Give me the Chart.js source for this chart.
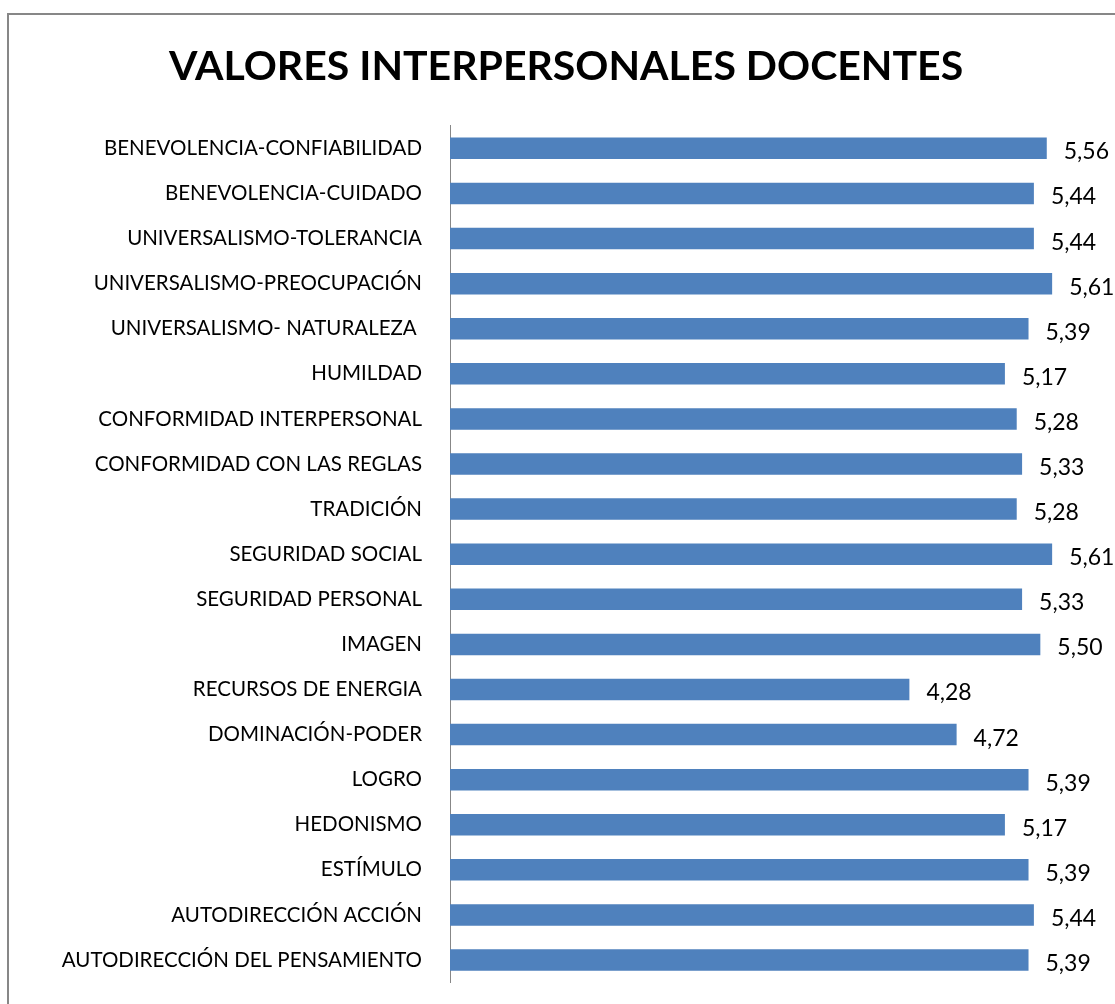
<!DOCTYPE html>
<html>
<head>
<meta charset="utf-8">
<script src="https://cdn.jsdelivr.net/npm/chart.js@4/dist/chart.umd.min.js"></script>
<style>
  html, body { margin: 0; padding: 0; background: #fff; overflow: hidden; }
  canvas { display: block; }
</style>
</head>
<body>
<canvas id="myChart" width="1115" height="1004"></canvas>
<script>
const categories = [
  "BENEVOLENCIA-CONFIABILIDAD",
  "BENEVOLENCIA-CUIDADO",
  "UNIVERSALISMO-TOLERANCIA",
  "UNIVERSALISMO-PREOCUPACIÓN",
  "UNIVERSALISMO- NATURALEZA ",
  "HUMILDAD",
  "CONFORMIDAD INTERPERSONAL",
  "CONFORMIDAD CON LAS REGLAS",
  "TRADICIÓN",
  "SEGURIDAD SOCIAL",
  "SEGURIDAD PERSONAL",
  "IMAGEN",
  "RECURSOS DE ENERGIA",
  "DOMINACIÓN-PODER",
  "LOGRO",
  "HEDONISMO",
  "ESTÍMULO",
  "AUTODIRECCIÓN ACCIÓN",
  "AUTODIRECCIÓN DEL PENSAMIENTO"
];
const values = [5.56, 5.44, 5.44, 5.61, 5.39, 5.17, 5.28, 5.33, 5.28, 5.61,
                5.33, 5.50, 4.28, 4.72, 5.39, 5.17, 5.39, 5.44, 5.39];
const title = "VALORES INTERPERSONALES DOCENTES";

const fontFamily = "Lato, 'Open Sans', sans-serif";

// outer frame like the office chart border
const framePlugin = {
  id: "frame",
  beforeDraw(chart) {
    const c = chart.ctx;
    c.save();
    c.fillStyle = "#fff";
    c.fillRect(0, 0, chart.width, chart.height);
    c.strokeStyle = "#878787";
    c.lineWidth = 2;
    c.strokeRect(8, 14, 3000, 3000);
    c.restore();
  }
};

// value labels at the end of each bar
const valueLabels = {
  id: "valueLabels",
  afterDatasetsDraw(chart) {
    const c = chart.ctx;
    const meta = chart.getDatasetMeta(0);
    c.save();
    c.font = "23px " + fontFamily;
    c.fillStyle = "#000";
    c.textAlign = "left";
    c.textBaseline = "alphabetic";
    meta.data.forEach((bar, i) => {
      const txt = values[i].toFixed(2).replace(".", ",");
      c.fillText(txt, bar.x + 17, bar.y + 11);
    });
    c.restore();
  }
};

const ctx = document.getElementById("myChart").getContext("2d");
const myChart = new Chart(ctx, {
  type: "bar",
  data: {
    labels: categories,
    datasets: [
      {
        data: values,
        backgroundColor: "#4F81BD",
        borderWidth: 0,
        categoryPercentage: 1,
        barPercentage: 0.477,
      },
    ],
  },
  options: {
    indexAxis: "y",
    responsive: false,
    animation: false,
    layout: {
      padding: { left: 38, right: 21, top: 0, bottom: 21.4 },
    },
    scales: {
      x: {
        display: false,
        min: 0,
        max: 6,
      },
      y: {
        grid: { display: false, drawTicks: false },
        border: { display: true, color: "#878787", width: 1 },
        ticks: {
          color: "#000",
          padding: 28,
          font: { family: fontFamily, size: 20.5 },
        },
        afterFit(scale) {
          scale.width = 412;
          scale.paddingTop = 0;
          scale.paddingBottom = 0;
        },
      },
    },
    plugins: {
      legend: { display: false },
      tooltip: { enabled: false },
      title: {
        display: true,
        text: title,
        color: "#000",
        font: { family: fontFamily, size: 41, weight: "bold", lineHeight: 1.2 },
        padding: { top: 42, bottom: 34.6 },
      },
    },
  },
  plugins: [framePlugin, valueLabels],
});
</script>
</body>
</html>
